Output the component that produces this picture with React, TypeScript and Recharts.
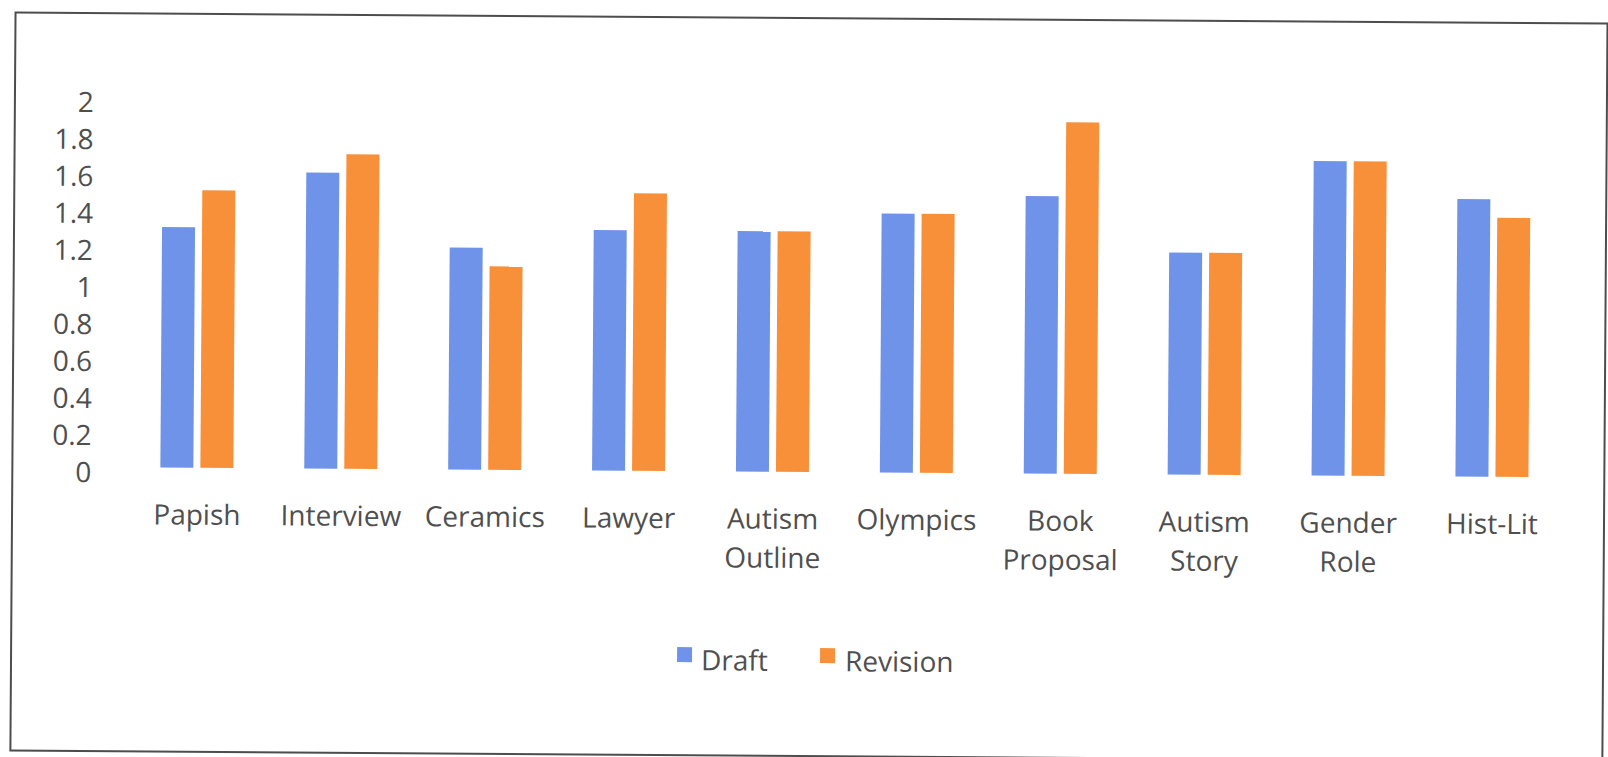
import React from "react";
import { BarChart, Bar, XAxis, YAxis } from "recharts";

// Category labels ("\n" marks a line break in the axis label)
const categories = [
  "Papish",
  "Interview",
  "Ceramics",
  "Lawyer",
  "Autism\nOutline",
  "Olympics",
  "Book\nProposal",
  "Autism\nStory",
  "Gender\nRole",
  "Hist-Lit",
];

const draftScores = [1.3, 1.6, 1.2, 1.3, 1.3, 1.4, 1.5, 1.2, 1.7, 1.5];
const revisionScores = [1.5, 1.7, 1.1, 1.5, 1.3, 1.4, 1.9, 1.2, 1.7, 1.4];

const yTicks = [0, 0.2, 0.4, 0.6, 0.8, 1, 1.2, 1.4, 1.6, 1.8, 2];

const seriesNames = ["Draft", "Revision"];
const seriesColors = ["#6f93e8", "#f8903a"];

const data = categories.map((name, i) => ({
  name,
  Draft: draftScores[i],
  Revision: revisionScores[i],
}));

const FONT = "'Open Sans', 'Noto Sans', sans-serif";
const FONT_SIZE = 28;
const TEXT_COLOR = "#4f4f4f";

const formatTick = (v: number) => String(Number(v.toFixed(1)));

const YTick = (props: any) => {
  const { x, y, payload } = props;
  return (
    <text
      x={x}
      y={y + 15}
      textAnchor="end"
      fill={TEXT_COLOR}
      fontFamily={FONT}
      fontSize={FONT_SIZE}
    >
      {formatTick(payload.value)}
    </text>
  );
};

const XTick = (props: any) => {
  const { x, y, payload } = props;
  const lines = String(payload.value).split("\n");
  return (
    <text
      x={x}
      y={y}
      textAnchor="middle"
      fill={TEXT_COLOR}
      fontFamily={FONT}
      fontSize={FONT_SIZE}
    >
      {lines.map((line, i) => (
        <tspan key={i} x={x} y={y + 57 + i * 39}>
          {line}
        </tspan>
      ))}
    </text>
  );
};

// Legend items: swatch left edge and text left edge
const legendSwatchX = [679, 822];
const legendTextX = [703, 847];

const ChartLegend = () => (
  <>
    {seriesNames.map((name, i) => (
      <React.Fragment key={name}>
        <div
          style={{
            position: "absolute",
            left: legendSwatchX[i],
            top: 648,
            width: 15,
            height: 15,
            background: seriesColors[i],
          }}
        />
        <div
          style={{
            position: "absolute",
            left: legendTextX[i],
            top: 641,
            fontFamily: FONT,
            fontSize: FONT_SIZE,
            lineHeight: "38px",
            color: TEXT_COLOR,
            whiteSpace: "nowrap",
          }}
        >
          {name}
        </div>
      </React.Fragment>
    ))}
  </>
);

export default function App() {
  return (
    <div
      style={{
        position: "absolute",
        left: 0,
        top: 0,
        width: 1608,
        height: 757,
        background: "#ffffff",
        overflow: "hidden",
      }}
    >
      <div
        style={{
          position: "absolute",
          left: 0,
          top: 0,
          width: 1608,
          height: 757,
          transform: "rotate(0.4deg)",
          transformOrigin: "50% 50%",
        }}
      >
        <div
          style={{
            position: "absolute",
            left: 12,
            top: 17,
            width: 1590,
            height: 736,
            border: "2px solid #4d4d4d",
          }}
        />
        <div style={{ position: "absolute", left: 0, top: 0 }}>
          <BarChart
            width={1608}
            height={757}
            data={data}
            margin={{ top: 102, right: 43, bottom: 255, left: 0 }}
            barSize={33}
            barGap={7}
          >
            <XAxis
              dataKey="name"
              height={30}
              axisLine={false}
              tickLine={false}
              tickSize={0}
              tickMargin={0}
              interval={0}
              tick={<XTick />}
            />
            <YAxis
              width={126}
              domain={[0, 2]}
              ticks={yTicks}
              axisLine={false}
              tickLine={false}
              tickSize={0}
              tickMargin={34}
              tick={<YTick />}
            />
            {seriesNames.map((name, i) => (
              <Bar
                key={name}
                dataKey={name}
                name={name}
                fill={seriesColors[i]}
                isAnimationActive={false}
              />
            ))}
          </BarChart>
        </div>
        <ChartLegend />
      </div>
    </div>
  );
}
